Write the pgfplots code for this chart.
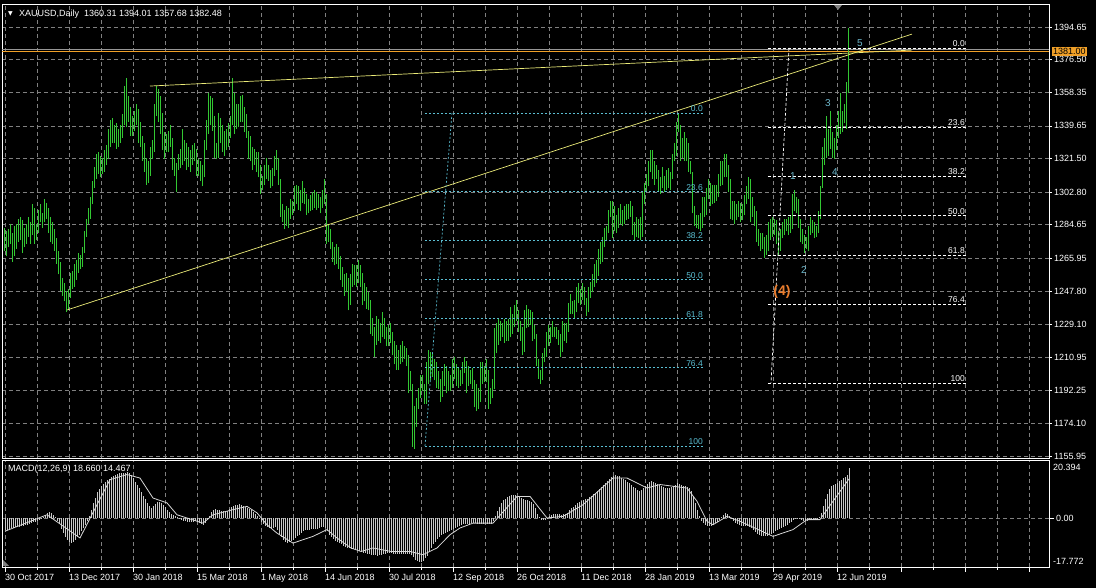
\documentclass[border=0pt]{standalone}
\usepackage{pgfplots}
\pgfplotsset{compat=1.18}
\usepackage{pgfplotstable}
\usepackage{fontspec}
\setmainfont{Liberation Sans}
\newfontfamily\symfont{DejaVu Sans}

\definecolor{barg}{RGB}{50,200,50}
\definecolor{gridc}{RGB}{128,128,128}
\definecolor{trend}{RGB}{235,235,120}
\definecolor{fibc}{RGB}{90,190,210}
\definecolor{wavec}{RGB}{110,185,205}
\definecolor{histc}{RGB}{200,200,200}
\definecolor{lvl}{RGB}{240,160,40}
\definecolor{bid}{RGB}{150,150,150}
\definecolor{wave4}{RGB}{235,125,45}

% daily bars: index, low, high (XAUUSD, 30 Oct 2017 .. 20 Jun 2019)
\pgfplotstableread{
i l h
0 1270 1283
1 1267 1281
2 1272 1282
3 1274 1285
4 1264 1280
5 1267 1284
6 1271 1285
7 1275 1288
8 1276 1289
9 1269 1287
10 1272 1283
11 1274 1285
12 1278 1289
13 1274 1286
14 1279 1296
15 1274 1294
16 1276 1285
17 1280 1293
18 1286 1296
19 1283 1291
20 1286 1299
21 1288 1297
22 1280 1294
23 1275 1289
24 1274 1286
25 1270 1282
26 1263 1277
27 1257 1270
28 1248 1264
29 1245 1255
30 1242 1252
31 1236 1248
32 1237 1249
33 1244 1258
34 1249 1259
35 1250 1263
36 1254 1265
37 1258 1269
38 1260 1268
39 1261 1272
40 1269 1281
41 1278 1288
42 1285 1294
43 1288 1300
44 1296 1309
45 1305 1317
46 1310 1324
47 1313 1325
48 1311 1323
49 1313 1322
50 1314 1326
51 1318 1329
52 1321 1338
53 1328 1343
54 1330 1344
55 1330 1340
56 1327 1341
57 1328 1338
58 1330 1340
59 1333 1346
60 1340 1362
61 1339 1366
62 1342 1356
63 1334 1350
64 1334 1345
65 1337 1348
66 1340 1352
67 1330 1349
68 1328 1342
69 1320 1334
70 1314 1330
71 1307 1322
72 1308 1320
73 1312 1328
74 1321 1332
75 1325 1352
76 1345 1362
77 1342 1360
78 1335 1356
79 1326 1347
80 1321 1336
81 1325 1335
82 1325 1337
83 1328 1340
84 1315 1333
85 1312 1322
86 1303 1319
87 1315 1324
88 1316 1327
89 1318 1338
90 1320 1332
91 1315 1330
92 1317 1328
93 1314 1326
94 1318 1329
95 1320 1330
96 1312 1327
97 1312 1321
98 1309 1320
99 1306 1318
100 1311 1332
101 1326 1343
102 1335 1358
103 1340 1356
104 1337 1355
105 1322 1345
106 1321 1330
107 1322 1347
108 1330 1344
109 1325 1340
110 1323 1337
111 1326 1338
112 1328 1341
113 1333 1345
114 1340 1366
115 1335 1358
116 1338 1352
117 1339 1352
118 1342 1356
119 1342 1357
120 1336 1350
121 1333 1346
122 1321 1337
123 1320 1334
124 1315 1328
125 1318 1327
126 1314 1325
127 1311 1325
128 1302 1318
129 1304 1312
130 1307 1318
131 1310 1322
132 1309 1318
133 1305 1315
134 1306 1316
135 1312 1323
136 1315 1326
137 1307 1322
138 1289 1310
139 1286 1296
140 1282 1293
141 1284 1295
142 1283 1294
143 1288 1299
144 1290 1298
145 1292 1306
146 1296 1307
147 1293 1306
148 1292 1304
149 1297 1309
150 1296 1305
151 1290 1302
152 1291 1299
153 1292 1301
154 1293 1303
155 1294 1304
156 1293 1303
157 1294 1302
158 1291 1300
159 1294 1304
160 1296 1310
161 1274 1302
162 1275 1285
163 1271 1282
164 1264 1275
165 1262 1272
166 1263 1274
167 1260 1272
168 1254 1267
169 1250 1261
170 1245 1257
171 1247 1258
172 1237 1255
173 1240 1257
174 1250 1263
175 1251 1262
176 1250 1262
177 1252 1265
178 1250 1262
179 1240 1258
180 1242 1252
181 1238 1250
182 1237 1247
183 1224 1243
184 1223 1233
185 1211 1228
186 1218 1234
187 1220 1232
188 1219 1230
189 1222 1236
190 1221 1233
191 1217 1228
192 1217 1229
193 1219 1230
194 1212 1225
195 1207 1220
196 1204 1218
197 1204 1215
198 1207 1218
199 1208 1220
200 1210 1217
201 1206 1216
202 1191 1212
203 1192 1203
204 1161 1196
205 1160 1184
206 1172 1188
207 1182 1194
208 1188 1201
209 1192 1201
210 1185 1196
211 1185 1208
212 1196 1215
213 1198 1214
214 1200 1213
215 1198 1210
216 1194 1208
217 1193 1203
218 1186 1199
219 1189 1203
220 1195 1207
221 1191 1206
222 1192 1203
223 1192 1201
224 1194 1210
225 1199 1211
226 1195 1207
227 1194 1205
228 1195 1204
229 1196 1208
230 1202 1211
231 1191 1209
232 1195 1206
233 1196 1204
234 1193 1205
235 1183 1198
236 1181 1196
237 1182 1194
238 1186 1208
239 1196 1208
240 1197 1206
241 1197 1210
242 1182 1204
243 1185 1194
244 1188 1199
245 1193 1227
246 1213 1230
247 1218 1233
248 1220 1231
249 1222 1230
250 1219 1232
251 1220 1231
252 1220 1232
253 1222 1239
254 1224 1235
255 1228 1240
256 1231 1243
257 1225 1237
258 1220 1231
259 1212 1228
260 1214 1237
261 1227 1240
262 1228 1238
263 1229 1237
264 1220 1236
265 1221 1229
266 1206 1224
267 1199 1210
268 1196 1204
269 1198 1213
270 1208 1216
271 1211 1225
272 1217 1229
273 1219 1228
274 1222 1231
275 1222 1228
276 1221 1228
277 1218 1226
278 1211 1224
279 1214 1231
280 1220 1230
281 1219 1230
282 1225 1241
283 1235 1246
284 1235 1242
285 1233 1243
286 1236 1250
287 1241 1252
288 1240 1249
289 1243 1252
290 1240 1250
291 1234 1244
292 1236 1250
293 1244 1253
294 1247 1257
295 1250 1263
296 1252 1265
297 1256 1271
298 1263 1275
299 1264 1278
300 1272 1283
301 1276 1284
302 1280 1293
303 1289 1298
304 1277 1298
305 1281 1295
306 1280 1290
307 1283 1294
308 1285 1296
309 1284 1293
310 1285 1295
311 1287 1296
312 1288 1296
313 1289 1298
314 1279 1295
315 1276 1286
316 1278 1289
317 1277 1288
318 1276 1289
319 1278 1303
320 1296 1308
321 1303 1313
322 1306 1320
323 1314 1326
324 1310 1326
325 1307 1320
326 1310 1318
327 1303 1315
328 1302 1311
329 1305 1317
330 1303 1312
331 1304 1315
332 1305 1316
333 1304 1314
334 1310 1324
335 1320 1330
336 1323 1342
337 1336 1347
338 1320 1340
339 1322 1333
340 1320 1336
341 1320 1333
342 1314 1330
343 1313 1320
344 1291 1314
345 1284 1295
346 1283 1290
347 1282 1290
348 1281 1291
349 1283 1300
350 1289 1300
351 1290 1305
352 1299 1310
353 1295 1308
354 1296 1307
355 1297 1307
356 1298 1307
357 1300 1313
358 1306 1320
359 1307 1320
360 1311 1324
361 1311 1324
362 1303 1318
363 1288 1310
364 1287 1298
365 1285 1298
366 1287 1296
367 1289 1298
368 1286 1297
369 1287 1296
370 1290 1301
371 1296 1306
372 1299 1311
373 1286 1310
374 1289 1300
375 1284 1295
376 1275 1292
377 1273 1282
378 1270 1280
379 1271 1280
380 1266 1278
381 1268 1279
382 1270 1286
383 1276 1288
384 1278 1289
385 1279 1288
386 1274 1287
387 1267 1281
388 1270 1282
389 1277 1286
390 1279 1288
391 1281 1288
392 1279 1289
393 1280 1290
394 1282 1302
395 1292 1304
396 1291 1300
397 1283 1299
398 1275 1288
399 1274 1282
400 1269 1279
401 1271 1278
402 1270 1284
403 1279 1289
404 1280 1287
405 1277 1286
406 1278 1284
407 1280 1292
408 1288 1306
409 1305 1328
410 1318 1333
411 1322 1345
412 1323 1338
413 1327 1348
414 1322 1336
415 1321 1333
416 1326 1340
417 1333 1348
418 1335 1358
419 1336 1348
420 1341 1352
421 1338 1364
422 1357.68 1394.01
}\bars

\begin{document}
\fontsize{9}{10}\selectfont
\begin{tikzpicture}
\fill[black] (0pt,0pt) rectangle (1096pt,588pt);

% ---------- price panel ----------
\begin{axis}[
  at={(2pt,130pt)}, anchor=south west,
  scale only axis, width=1047pt, height=454pt,
  xmin=-1.5, xmax=522, ymin=1154.86, ymax=1407.45,
  clip mode=individual,
  axis line style={white, line width=0.8pt},
  xtick={0,16,...,512}, xticklabels={}, xtick style={draw=none},
  ytick={1155.95,1174.10,1192.25,1210.95,1229.10,1247.80,1265.95,1284.65,1302.80,1321.50,1339.65,1358.35,1376.50,1394.65},
  yticklabels={1155.95,1174.10,1192.25,1210.95,1229.10,1247.80,1265.95,1284.65,1302.80,1321.50,1339.65,1358.35,1376.50,1394.65},
  ytick pos=right, yticklabel pos=right, ytick align=outside,
  major tick length=3pt, tick style={white, line width=0.6pt},
  tick label style={text=white, font=\fontsize{9}{10}\selectfont},
  yticklabel style={xshift=-1pt},
  grid=major, major grid style={gridc, dash pattern=on 4pt off 3pt, line width=0.6pt},
]
% level lines
\addplot[bid, line width=0.6pt] coordinates {(-1.5,1382.48) (522,1382.48)};
\addplot[lvl, line width=0.7pt] coordinates {(-1.5,1381) (522,1381)};

% bars
\addplot[draw=barg, color=barg, line width=1pt, -,
  quiver={u=0, v=\thisrow{h}-\thisrow{l}, every arrow/.append style={draw=barg}}]
  table[x=i, y=l] {\bars};

% trend lines
\addplot[trend, line width=0.7pt] coordinates {(31,1237.2) (453.5,1390.7)};
\addplot[trend, line width=0.7pt] coordinates {(72.5,1361.8) (453.5,1381.8)};

% fibonacci 1 (cyan)
\addplot[fibc, line width=0.7pt, dash pattern=on 2pt off 2pt] coordinates {(223.5,1346.8) (210,1161.5)};
\addplot[fibc, line width=0.7pt, dash pattern=on 2pt off 2pt, unbounded coords=jump] coordinates {
 (210,1346.8) (350,1346.8) (nan,nan)
 (210,1303.07) (350,1303.07) (nan,nan)
 (210,1276.02) (350,1276.02) (nan,nan)
 (210,1254.15) (350,1254.15) (nan,nan)
 (210,1232.29) (350,1232.29) (nan,nan)
 (210,1205.23) (350,1205.23) (nan,nan)
 (210,1161.5) (350,1161.5)};

% fibonacci 2 (white)
\addplot[white, line width=0.7pt, dash pattern=on 3pt off 2pt] coordinates {(392,1383) (383,1196.6)};
\addplot[white, line width=0.7pt, dash pattern=on 3pt off 2pt, unbounded coords=jump] coordinates {
 (381.5,1383) (481,1383) (nan,nan)
 (381.5,1339.01) (481,1339.01) (nan,nan)
 (381.5,1311.80) (481,1311.80) (nan,nan)
 (381.5,1289.80) (481,1289.80) (nan,nan)
 (381.5,1267.80) (481,1267.80) (nan,nan)
 (381.5,1240.59) (481,1240.59) (nan,nan)
 (381.5,1196.6) (481,1196.6)};

% fib labels
\begin{scope}[every node/.style={anchor=south east, inner sep=1pt, font=\fontsize{8.5}{9}\selectfont}]
\node[text=fibc] at (axis cs:349.5,1346.8) {0.0};
\node[text=fibc] at (axis cs:349.5,1303.07) {23.6};
\node[text=fibc] at (axis cs:349.5,1276.02) {38.2};
\node[text=fibc] at (axis cs:349.5,1254.15) {50.0};
\node[text=fibc] at (axis cs:349.5,1232.29) {61.8};
\node[text=fibc] at (axis cs:349.5,1205.23) {76.4};
\node[text=fibc] at (axis cs:349.5,1161.5) {100};
\node[text=white] at (axis cs:480.5,1383) {0.0};
\node[text=white] at (axis cs:480.5,1339.01) {23.6};
\node[text=white] at (axis cs:480.5,1311.80) {38.2};
\node[text=white] at (axis cs:480.5,1289.80) {50.0};
\node[text=white] at (axis cs:480.5,1267.80) {61.8};
\node[text=white] at (axis cs:480.5,1240.59) {76.4};
\node[text=white] at (axis cs:480.5,1196.6) {100};
\end{scope}

% wave counts
\begin{scope}[every node/.style={inner sep=0pt, text=wavec, font=\fontsize{10}{10}\selectfont}]
\node at (axis cs:394,1311.8) {1};
\node at (axis cs:399.5,1259.4) {2};
\node at (axis cs:411.5,1352.4) {3};
\node at (axis cs:415,1314) {4};
\node at (axis cs:427.5,1385.8) {5};
\end{scope}
\node[inner sep=0pt, text=wave4, font=\fontsize{14}{14}\selectfont\bfseries] at (axis cs:388.5,1247.2) {(4)};

% current level label
\node[anchor=west, fill=lvl, text=black, inner sep=1pt, xshift=3pt,
      font=\fontsize{9}{9}\selectfont] at (axis cs:522,1381) {1381.00};
\end{axis}

% ---------- MACD panel ----------
\begin{axis}[
  at={(2pt,21pt)}, anchor=south west,
  scale only axis, width=1047pt, height=107pt,
  xmin=-1.5, xmax=522, ymin=-18.15, ymax=21.49,
  clip mode=individual,
  axis line style={white, line width=0.8pt},
  xtick={0,32,...,512}, minor xtick={16,48,...,496},
  xticklabels={30 Oct 2017,13 Dec 2017,30 Jan 2018,15 Mar 2018,1 May 2018,14 Jun 2018,30 Jul 2018,12 Sep 2018,26 Oct 2018,11 Dec 2018,28 Jan 2019,13 Mar 2019,29 Apr 2019,12 Jun 2019,,,},
  xtick pos=bottom, xtick align=outside,
  ytick={0}, yticklabels={0.00}, ytick pos=right, yticklabel pos=right, ytick align=outside,
  major tick length=5pt, minor tick length=3pt,
  tick style={white, line width=0.6pt},
  tick label style={text=white, font=\fontsize{9}{10}\selectfont},
  xticklabel style={anchor=north west, xshift=-3pt, yshift=1pt},
  yticklabel style={xshift=-1pt},
  grid=both,
  major grid style={gridc, dash pattern=on 4pt off 3pt, line width=0.6pt},
  minor grid style={gridc, dash pattern=on 4pt off 3pt, line width=0.6pt},
]
\addplot[ycomb, histc, line width=0.8pt, mark=none] table[x expr=\coordindex, y=m, row sep=\\] {
m\\
-4.5\\-4.3\\-4.0\\-3.8\\-3.6\\-3.5\\-3.3\\-3.2\\-3.0\\-2.8\\
-2.7\\-2.5\\-2.3\\-2.0\\-1.6\\-1.4\\-1.2\\-0.8\\-0.3\\0.2\\
1.0\\1.8\\2.2\\1.9\\1.2\\
0.2\\-1.0\\-2.4\\-4.0\\-5.5\\-7.0\\-8.3\\-9.0\\-9.3\\-8.8\\
-8.0\\-7.2\\-6.2\\-5.0\\-3.8\\-2.6\\-1.2\\
0.8\\3.0\\5.5\\7.5\\9.5\\
10.8\\11.8\\12.6\\13.3\\14.0\\14.6\\15.1\\15.5\\15.8\\16.2\\
16.5\\16.7\\16.6\\16.8\\17.0\\16.7\\15.8\\14.8\\
13.5\\12.2\\11.0\\9.6\\8.2\\7.0\\5.6\\4.4\\3.8\\4.6\\
5.2\\5.8\\6.0\\5.5\\5.0\\4.0\\
3.0\\2.2\\1.6\\1.0\\0.6\\0.2\\
-0.4\\-0.8\\-1.0\\-1.2\\-1.4\\-1.6\\-1.5\\-1.3\\-1.2\\-1.4\\
-1.8\\-2.2\\-2.5\\-2.0\\-0.8\\0.6\\
2.2\\3.0\\3.2\\3.0\\2.8\\2.6\\2.5\\2.4\\2.6\\3.2\\
4.0\\4.5\\4.8\\5.0\\5.2\\5.0\\4.6\\4.2\\3.8\\3.4\\
3.0\\2.4\\1.5\\0.6\\-0.5\\
-1.5\\-2.4\\-3.0\\-3.4\\-3.6\\-3.8\\-3.6\\-3.4\\-4.5\\-6.0\\
-7.2\\-8.2\\-8.8\\-9.2\\-9.0\\-8.6\\-8.0\\-7.4\\-6.8\\-6.2\\
-5.6\\
-5.0\\-4.6\\-4.4\\-4.3\\-4.2\\-4.1\\-4.0\\-3.9\\-3.7\\-3.5\\-3.4\\
-3.6\\-5.0\\-6.2\\-7.0\\-7.8\\-8.4\\-9.0\\-9.4\\-9.8\\-10.2\\
-10.6\\-11.0\\-11.2\\-11.4\\
-11.6\\-11.8\\-12.0\\-12.2\\-12.5\\-12.8\\-13.0\\-13.2\\-13.4\\-13.6\\
-13.6\\-13.8\\-13.9\\-13.8\\-13.6\\-13.4\\-13.2\\-13.0\\-13.0\\-13.0\\
-13.2\\-13.4\\-13.5\\-13.5\\-13.4\\-13.3\\-13.2\\-13.2\\-13.3\\-13.6\\
-14.5\\
-15.4\\-16.0\\-16.3\\-16.2\\-15.8\\-15.0\\-14.0\\
-12.5\\-11.0\\-9.8\\-8.8\\-7.8\\-7.0\\-6.4\\-6.0\\-5.6\\-5.2\\-4.8\\
-4.4\\-4.0\\-3.6\\-3.2\\-2.8\\-2.6\\-2.4\\-2.3\\-2.2\\-2.1\\
-2.0\\-2.0\\-2.0\\-2.1\\-2.2\\-2.2\\-2.1\\-2.0\\-2.2\\-2.4\\
-2.2\\-1.0\\
0.8\\2.5\\4.0\\5.5\\6.5\\7.2\\7.8\\8.2\\8.5\\8.6\\8.5\\8.2\\
7.8\\7.4\\7.0\\6.8\\6.6\\6.4\\6.0\\5.2\\3.6\\1.6\\
0.2\\-0.6\\-0.8\\-0.6\\-0.2\\
0.6\\1.0\\1.4\\1.6\\1.6\\1.5\\1.2\\1.3\\1.6\\2.0\\
2.8\\3.6\\4.2\\4.8\\5.4\\5.8\\6.2\\6.6\\7.0\\7.2\\
7.6\\8.2\\8.8\\9.4\\10.0\\10.8\\11.6\\12.4\\13.0\\13.8\\
14.6\\15.2\\15.6\\
15.8\\15.6\\15.4\\15.0\\14.6\\14.0\\13.4\\12.8\\12.2\\11.6\\
11.0\\10.4\\10.0\\10.2\\
11.0\\11.8\\12.6\\13.2\\13.6\\13.4\\13.0\\12.6\\12.2\\11.8\\
11.5\\11.2\\11.0\\11.0\\11.4\\11.8\\12.4\\12.8\\12.6\\12.2\\
12.0\\11.8\\11.6\\11.0\\10.0\\
8.0\\5.6\\3.0\\0.8\\
-1.0\\-2.0\\-2.6\\-3.0\\-3.0\\-2.8\\-2.4\\-2.0\\-1.4\\-0.6\\
0.2\\1.0\\1.8\\1.6\\
0.6\\-0.4\\-1.2\\-1.8\\-2.2\\-2.6\\-2.8\\-3.0\\-3.0\\-2.8\\
-3.2\\-3.8\\-4.6\\-5.2\\-5.8\\-6.2\\-6.6\\-6.8\\-6.8\\-6.6\\
-6.2\\-5.8\\-5.4\\-5.0\\-4.6\\-4.2\\-3.8\\-3.4\\-3.0\\-2.6\\
-2.0\\-1.4\\-0.8\\
-0.4\\-0.2\\-0.4\\-0.8\\-1.0\\-1.2\\-1.0\\-0.8\\-0.6\\-0.5\\
-0.4\\-0.2\\0.4\\
2.0\\4.5\\7.0\\9.0\\10.8\\12.0\\12.4\\12.6\\13.0\\13.6\\
14.2\\14.8\\15.2\\15.8\\18.66\\
};
% signal line
\addplot[color={rgb,255:red,215;green,215;blue,215}, line width=0.8pt, mark=none] coordinates {
(0,-4.9) (21,1.2) (37.5,-7.4) (46,4.9) (52.5,14.2) (61,16.1) (67.5,14.8) (74,7.4)
(81,5.6) (86,1.2) (91,0) (99,-1.9) (104,1.2) (114,3.1) (121,4.3) (126,1.9)
(131,-2.5) (136,-5.6) (144,-9.3) (154,-6.8) (161,-4.3) (166,-7.4) (173,-11.1)
(178,-12.4) (184,-11.1) (193,-12.4) (202.5,-12.4) (209,-13.6) (216,-11.1)
(222.5,-6.2) (227.5,-3.7) (234,-1.9) (244,-1.9) (256,8.0) (262.5,8.0) (271,0)
(279,0.6) (289,4.9) (304,14.8) (311,14.8) (321,11.1) (327.5,12.4) (341,11.1)
(346,6.2) (351,-1.2) (354,-2.5) (361,0.6) (367.5,-1.2) (384,-6.8) (394,-4.3)
(401,-0.6) (407.5,-0.6) (414,6.2) (422,14.467)};
\end{axis}

% ---------- texts ----------
\node[anchor=center, text=white, inner sep=0pt, font=\symfont\fontsize{6}{6}\selectfont] at (10.5pt,574pt) {▼};
\node[anchor=west, text=white, inner sep=0pt] at (19pt,574pt) {XAUUSD,Daily\ \ 1360.31 1394.01 1357.68 1382.48};
\node[anchor=west, text=white, inner sep=0pt] at (8pt,119pt) {MACD(12,26,9) 18.660 14.467};
\node[anchor=west, text=white, inner sep=0pt] at (1053pt,121pt) {20.394};
\node[anchor=west, text=white, inner sep=0pt] at (1053pt,27pt) {-17.772};
\fill[gray] (834pt,583pt) -- (842pt,583pt) -- (838pt,578pt) -- cycle;
\fill[gray] (3pt,22pt) -- (3pt,28pt) -- (9pt,22pt) -- cycle;

\pgfresetboundingbox
\path[use as bounding box] (0pt,0pt) rectangle (1096pt,588pt);
\end{tikzpicture}
\end{document}
